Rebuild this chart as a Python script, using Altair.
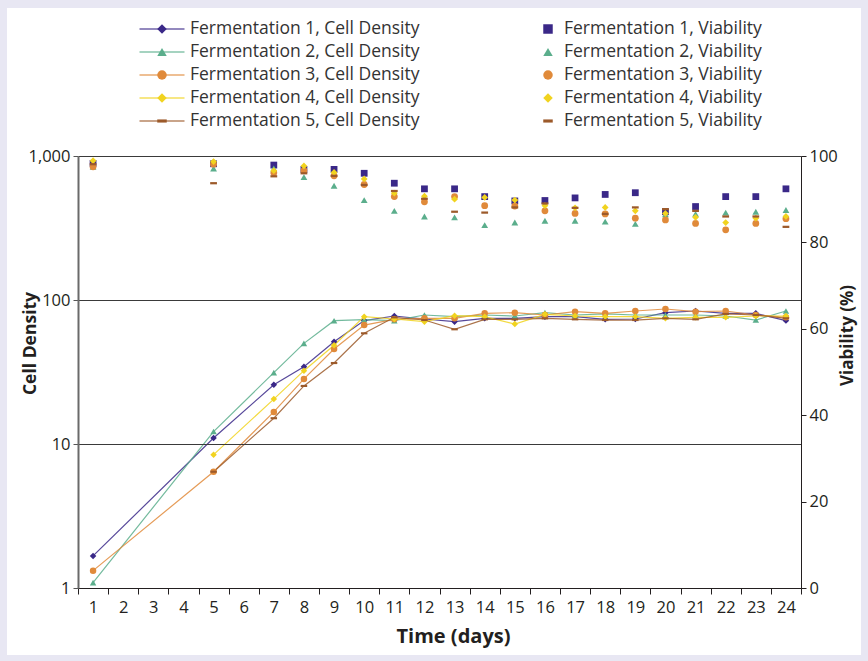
import altair as alt
import pandas as pd

days = [1, 5, 7, 8, 9, 10, 11, 12, 13, 14, 15, 16, 17, 18, 19, 20, 21, 22, 23, 24]
all_days = list(range(1, 25))
series = ["Fermentation 1", "Fermentation 2", "Fermentation 3", "Fermentation 4", "Fermentation 5"]

density_f1 = [1.67, 11.0, 25.8, 34.4, 51.3, 72.0, 77.4, 73.8, 70.7, 74.6, 74.6, 76.6, 76.6, 73.4, 73.8, 81.7, 83.9, 80.8, 80.8, 71.9]
density_f2 = [1.09, 12.2, 31.3, 50.0, 71.8, 73.0, 71.9, 78.7, 76.6, 78.7, 77.4, 81.7, 78.7, 80.0, 78.7, 78.7, 78.7, 77.4, 72.6, 83.9]
density_f3 = [1.32, 6.42, 16.7, 28.3, 45.7, 67.0, 73.4, 74.6, 74.6, 80.8, 81.7, 78.7, 83.0, 80.8, 83.9, 86.6, 83.0, 83.9, 78.7, 75.8]
density_f4 = [None, 8.43, 20.5, 32.3, 48.5, 76.6, 73.8, 70.7, 77.8, 76.6, 68.1, 79.5, 77.4, 76.6, 76.6, 74.6, 75.8, 75.8, 77.4, 77.4]
density_f5 = [None, 6.42, 15.1, 25.3, 36.5, 58.7, 75.8, 72.6, 62.6, 73.4, 73.4, 74.6, 73.4, 72.6, 72.6, 74.6, 73.4, 80.0, 78.7, 74.6]

viability_f1 = [98.3, 98.2, 97.9, 96.9, 96.9, 96.0, 93.7, 92.4, 92.4, 90.6, 89.6, 89.7, 90.3, 91.1, 91.5, 87.1, 88.3, 90.6, 90.6, 92.4]
viability_f2 = [97.5, 97.1, 97.1, 95.1, 93.1, 89.8, 87.3, 86.0, 85.8, 84.0, 84.6, 85.0, 85.0, 84.8, 84.3, 86.5, 86.6, 86.9, 87.1, 87.5]
viability_f3 = [97.5, 98.1, 96.1, 96.6, 95.4, 93.4, 90.6, 89.4, 90.6, 88.5, 88.4, 87.3, 86.7, 86.6, 85.6, 85.2, 84.4, 82.9, 84.4, 85.5]
viability_f4 = [98.9, 98.7, 96.6, 97.7, 96.2, 94.7, 91.4, 90.7, 90.0, 90.4, 89.8, 88.5, 88.0, 88.1, 87.3, 86.7, 85.8, 84.6, 85.6, 86.0]
viability_f5 = [98.1, 93.7, 95.3, 96.0, 95.4, 93.3, 91.9, 90.1, 87.1, 86.9, 88.1, 89.0, 88.0, 86.6, 88.1, 87.7, 87.3, 86.0, 86.0, 83.6]

density_all = [density_f1, density_f2, density_f3, density_f4, density_f5]
viability_all = [viability_f1, viability_f2, viability_f3, viability_f4, viability_f5]

colors = ["#3a2888", "#5bae8c", "#e08a3a", "#f1d31f", "#9c5a2a"]
DASH = "M-1,-0.33L1,-0.33L1,0.33L-1,0.33Z"
density_shapes = ["diamond", "triangle-up", "circle", "diamond", DASH]
viability_shapes = ["square", "triangle-up", "circle", "diamond", DASH]

rows_d, rows_v = [], []
for s, dens, via in zip(series, density_all, viability_all):
    for d, a, b in zip(days, dens, via):
        if a is not None:
            rows_d.append({"series": s, "day": d, "density": a})
        if b is not None:
            rows_v.append({"series": s, "day": d, "viability": b})
df_d = pd.DataFrame(rows_d)
df_v = pd.DataFrame(rows_v)

leg_rows = []
for i, s in enumerate(series):
    leg_rows.append({"row": i, "col": 0, "key": "d" + str(i), "series": s, "label": s + ", Cell Density"})
    leg_rows.append({"row": i, "col": 1, "key": "v" + str(i), "series": s, "label": s + ", Viability"})
df_leg = pd.DataFrame(leg_rows)
leg_keys = ["d" + str(i) for i in range(5)] + ["v" + str(i) for i in range(5)]
leg_shapes = density_shapes + viability_shapes

FONT = "Open Sans"
TXT = "#231f20"

color_enc = alt.Color("series:N", scale=alt.Scale(domain=series, range=colors), legend=None)

x_enc = alt.X(
    "day:O",
    bandPosition=0.5,
    scale=alt.Scale(type="band", domain=all_days, paddingInner=0, paddingOuter=0),
    axis=alt.Axis(
        title="Time (days)", tickBand="extent", labelAngle=0, labelFontSize=16.5,
        labelPadding=5, tickSize=6, tickColor=TXT, domainColor=TXT, labelColor=TXT,
        titleFontSize=20, titleFontWeight="bold", titleColor=TXT,
        titleX=375, titleY=48, titleAlign="center", titleBaseline="middle",
        grid=False, zindex=1, labelFont=FONT, titleFont=FONT,
    ),
)

y_left = alt.Y(
    "density:Q",
    scale=alt.Scale(type="log", domain=[1, 1000]),
    axis=alt.Axis(
        title="Cell Density", values=[1, 10, 100, 1000], format=",", grid=True,
        gridColor="#3a3a3a", gridWidth=1, labelFontSize=16.5, labelColor=TXT,
        tickSize=5, tickColor="#555", domainColor="#6a6a6a", domainWidth=2,
        labelPadding=3, zindex=1, labelFont=FONT, titleFont=FONT,
        titleFontSize=17.5, titleFontWeight="bold", titleColor=TXT,
        titleAngle=-90, titleX=-48, titleY=187, titleAlign="center", titleBaseline="middle",
    ),
)

y_right = alt.Y(
    "viability:Q",
    scale=alt.Scale(domain=[0, 100]),
    axis=alt.Axis(
        orient="right", title="Viability (%)", values=[0, 20, 40, 60, 80, 100],
        grid=False, labelFontSize=16.5, labelColor=TXT, tickSize=5, tickColor=TXT,
        domainColor=TXT, labelPadding=3, zindex=1, labelFont=FONT, titleFont=FONT,
        titleFontSize=17, titleFontWeight="bold", titleColor=TXT,
        titleAngle=-90, titleX=46, titleY=179, titleAlign="center", titleBaseline="middle",
    ),
)

base_d = alt.Chart(df_d)
lines = base_d.mark_line(strokeWidth=1.2, opacity=0.85).encode(
    x=x_enc, y=y_left, color=color_enc, order="day:Q"
)
pts_d = base_d.mark_point(filled=True, opacity=1, size=42).encode(
    x=x_enc, y=y_left, color=color_enc,
    shape=alt.Shape("series:N", scale=alt.Scale(domain=series, range=density_shapes), legend=None),
)
density = alt.layer(lines, pts_d)

pts_v = alt.Chart(df_v).mark_point(filled=True, opacity=1, size=46).encode(
    x=x_enc, y=y_right, color=color_enc,
    shape=alt.Shape("series:N", scale=alt.Scale(domain=series, range=viability_shapes), legend=None),
)

main = alt.layer(density, pts_v).resolve_scale(y="independent", shape="independent")

# legend built from the same series names
leg_y = alt.Y("row:Q", scale=alt.Scale(domain=[0, 4], range=[-127, -35]), axis=None)
leg_base = alt.Chart(df_leg)
leg_lines = leg_base.transform_filter("datum.col == 0").mark_tick(
    orient="horizontal", size=45, thickness=2, opacity=0.55
).encode(
    x=alt.X("col:Q", scale=alt.Scale(domain=[0, 1], range=[84, 470]), axis=None),
    y=leg_y, color=color_enc,
)
leg_pts = leg_base.mark_point(filled=True, opacity=1, size=90).encode(
    x=alt.X("col:Q", scale=alt.Scale(domain=[0, 1], range=[84, 470]), axis=None),
    y=leg_y, color=color_enc,
    shape=alt.Shape("key:N", scale=alt.Scale(domain=leg_keys, range=leg_shapes), legend=None),
)
leg_text = leg_base.mark_text(
    align="left", baseline="middle", fontSize=17.5, font=FONT, color="#333333"
).encode(
    x=alt.X("col:Q", scale=alt.Scale(domain=[0, 1], range=[112, 486]), axis=None),
    y=leg_y, text="label:N",
)
legend = alt.layer(leg_lines, leg_pts, leg_text).resolve_scale(x="independent")

panel = alt.Chart(pd.DataFrame({"p": [0]})).mark_rect(color="white").encode(
    x=alt.value(-71), x2=alt.value(783), y=alt.value(-148), y2=alt.value(499)
)

chart = alt.layer(panel, main, legend).resolve_scale(
    x="independent", y="independent", color="independent", shape="independent"
).properties(
    width=723, height=432,
    autosize=alt.AutoSizeParams(type="none"),
    padding={"left": 78, "top": 156, "right": 67, "bottom": 73},
    background="#e8e7f3",
).configure_view(strokeWidth=0).configure(font=FONT)

chart.save("out.html", embed_options={"renderer": "svg", "actions": False})
